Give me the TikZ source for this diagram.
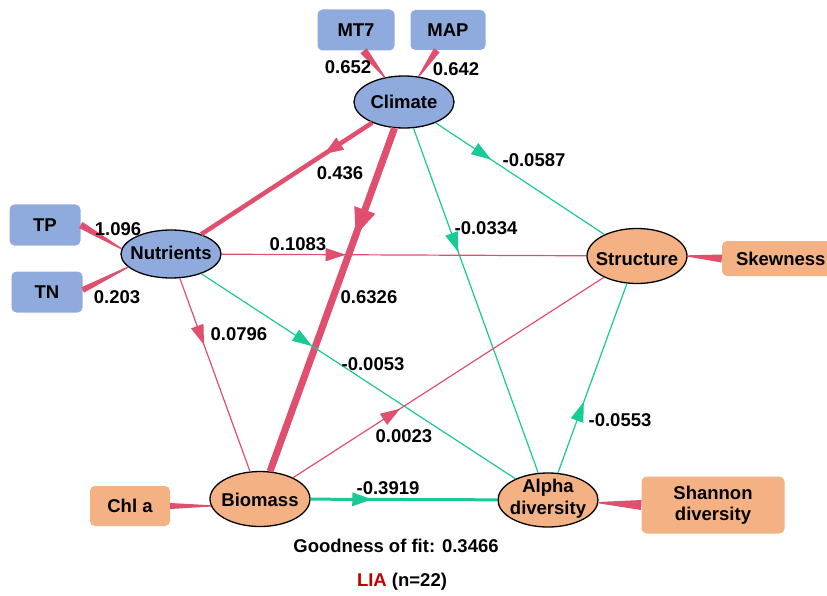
\documentclass[tikz,border=0pt]{standalone}
\usepackage{fontspec}
\setmainfont{Liberation Sans}
\usetikzlibrary{shapes.geometric,arrows.meta,decorations.markings,calc}
\definecolor{boxblue}{HTML}{8FAADC}
\definecolor{ellblue}{HTML}{8FAADC}
\definecolor{boxorange}{HTML}{F4B183}
\definecolor{pinkc}{HTML}{E0506E}
\definecolor{greenc}{HTML}{19C996}
\definecolor{liared}{HTML}{C00000}
\newcommand\taperline[4]{%
  \fill[pinkc] ($(#1)!#3!90:(#2)$) -- ($(#2)!#4!-90:(#1)$) -- ($(#2)!#4!90:(#1)$) -- ($(#1)!#3!-90:(#2)$) -- cycle;}
\tikzset{
  txt/.style={font=\fontsize{18.5}{22}\selectfont\bfseries, text=black},
  bbox/.style={txt, rectangle, rounded corners=5pt, fill=boxblue, inner sep=0pt},
  obox/.style={txt, rectangle, rounded corners=5pt, fill=boxorange, inner sep=0pt, align=center},
  bell/.style={ellipse, draw=black, line width=1.3pt, fill=ellblue, minimum width=100pt, inner sep=0pt},
  oell/.style={ellipse, draw=black, line width=1.3pt, fill=boxorange, minimum width=100pt, inner sep=0pt},
  lbl/.style={txt, inner sep=0pt},
  pedge/.style={color=pinkc, line width=1.2pt},
  gedge/.style={color=greenc, line width=1.2pt},
  midarrow/.style={postaction={decorate,decoration={markings,mark=at position #1 with {\arrow{Triangle[length=20pt,width=13pt]}}}}},
  bigarrow/.style={postaction={decorate,decoration={markings,mark=at position #1 with {\arrow{Triangle[length=28pt,width=20pt]}}}}},
}
\begin{document}
\begin{tikzpicture}[x=1pt,y=-1pt]
\useasboundingbox (0,0) rectangle (827,596);
\fill[white] (0,0) rectangle (827,596);

% boxes
\node[bbox, minimum width=77pt, minimum height=41pt] (MT7) at (356,30) {MT7};
\node[bbox, minimum width=75pt, minimum height=40pt] (MAP) at (448,30) {MAP};
\node[bbox, minimum width=71pt, minimum height=41pt] (TP) at (45,225) {TP};
\node[bbox, minimum width=71pt, minimum height=41pt] (TN) at (47,292) {TN};
\node[obox, minimum width=124pt, minimum height=35pt] (Skew) at (784,258.5) {};
\node[lbl, anchor=west] (SkewT) at ($(Skew.west)+(14,0)$) {Skewness};
\node[obox, minimum width=80pt, minimum height=40pt] (Chl) at (130,506) {Chl a};
\node[obox, minimum width=143pt, minimum height=57pt] (Shannon) at (713,505) {Shannon\\[-1pt]diversity};

% ellipses
\node[bell, minimum height=52pt] (Climate) at (404,102) {};
\node[bell, minimum height=48pt] (Nutrients) at (171,254) {};
\node[oell, minimum height=55pt] (Structure) at (637,256) {};
\node[oell, minimum height=55pt] (Biomass) at (260,499) {};
\node[oell, minimum height=54pt] (Alpha) at (548,500) {};
\node[lbl] at (Climate) {Climate};
\node[lbl] at ($(Nutrients)+(0,-1)$) {Nutrients};
\node[lbl] at ($(Structure)+(0,3)$) {Structure};
\node[lbl] at ($(Biomass)+(0,1)$) {Biomass};
\node[lbl, align=center] at ($(Alpha)+(0,-1)$) {Alpha\\diversity};

% measurement wedges
\coordinate (w1a) at (MT7.-70);   \coordinate (w1b) at (Climate.128);
\coordinate (w2a) at (MAP.-119);  \coordinate (w2b) at (Climate.60);
\coordinate (w3a) at (TP.east);   \coordinate (w3b) at (Nutrients.174);
\coordinate (w4a) at ($(TN.east)+(0,-2)$);   \coordinate (w4b) at (Nutrients.197);
\coordinate (w5a) at (Skew.west); \coordinate (w5b) at (Structure.east);
\coordinate (w6a) at (Chl.east);  \coordinate (w6b) at (Biomass.188);
\coordinate (w7a) at (Shannon.west); \coordinate (w7b) at (Alpha.-3);
\taperline{w1a}{w1b}{4pt}{0.7pt}
\taperline{w2a}{w2b}{3.5pt}{0.7pt}
\taperline{w3a}{w3b}{3.5pt}{0.7pt}
\taperline{w4a}{w4b}{3pt}{0.7pt}
\taperline{w5a}{w5b}{4pt}{0.7pt}
\taperline{w6a}{w6b}{3pt}{0.7pt}
\taperline{w7a}{w7b}{5pt}{0.7pt}

% paths
\draw[pedge, line width=4.5pt, midarrow=0.285] (Climate) -- (Nutrients);
\draw[pedge, line width=7pt, bigarrow=0.315] (Climate) -- (Biomass);
\draw[gedge, midarrow=0.33] (Climate) -- (Structure);
\draw[gedge, midarrow=0.36] (Climate) -- (Alpha);
\draw[pedge, midarrow=0.34] (Nutrients) -- (Structure);
\draw[pedge, midarrow=0.345] (Nutrients) -- (Biomass);
\draw[gedge, midarrow=0.353] (Nutrients) -- (Alpha);
\draw[pedge, midarrow=0.345] (Biomass) -- (Structure);
\draw[gedge, line width=3pt, midarrow=0.33] (Biomass) -- (Alpha);
\draw[gedge, midarrow=0.376] (Alpha) -- (Structure);

% labels
\node[lbl] (l1) at (348,67) {0.652};
\node[lbl] (l2) at (456,69) {0.642};
\node[lbl] (l3) at (118,229) {1.096};
\node[lbl] (l4) at (117,297) {0.203};
\node[lbl] (l5) at (340,173) {0.436};
\node[lbl] (l6) at (298,244) {0.1083};
\node[lbl] (l7) at (369,297) {0.6326};
\node[lbl] (l8) at (534,160) {-0.0587};
\node[lbl] (l9) at (486,228) {-0.0334};
\node[lbl] (l10) at (239,334) {0.0796};
\node[lbl] (l11) at (373,364) {-0.0053};
\node[lbl] (l12) at (404,436) {0.0023};
\node[lbl] (l13) at (620,420) {-0.0553};
\node[lbl] (l14) at (388,488) {-0.3919};
\node[lbl] (gof) at (396,546) {Goodness of fit: 0.3466};
\node[lbl] (lia) at (402,582) {{\color{liared}LIA} (n=22)};
\end{tikzpicture}
\end{document}
